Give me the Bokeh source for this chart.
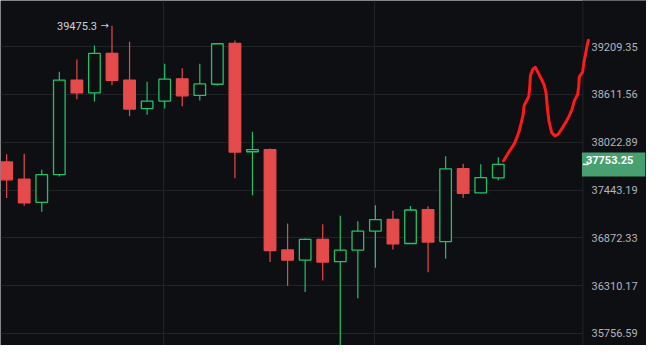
from bokeh.plotting import figure
from bokeh.models import (Range1d, FixedTicker, PrintfTickFormatter, Label, ColumnDataSource,
                          BoxAnnotation, Span)
from bokeh.core.properties import value
from bokeh.embed import file_html
from bokeh.resources import INLINE

# ---- data ----
opens = [37782.9, 37574.2, 37294.8, 37628.7, 38790.9, 38630.7, 39125.7, 38790.9, 38435.0, 38529.2,
         38806.4, 38599.8, 38738.3, 39249.4, 37907.0, 37933.6, 36729.5, 36609.2, 36853.2, 36591.3,
         36726.2, 36952.3, 37092.7, 36804.9, 37206.8, 36827.4, 37701.7, 37408.9, 37589.3]
highs = [37875.7, 37883.8, 37686.7, 38893.7, 39049.2, 39225.1, 39475.3, 39270.1, 38770.6, 38994.1,
         38937.9, 38994.1, 39247.0, 39285.8, 38152.4, 37945.2, 37043.6, 36864.5, 37032.2, 37135.9,
         37069.9, 37260.5, 37195.4, 37252.5, 37249.1, 37852.5, 37759.7, 37756.2, 37840.9]
lows = [37347.3, 37256.0, 37184.0, 37605.5, 38552.7, 38524.5, 38726.3, 38340.8, 38359.6, 38438.5,
        38465.6, 38536.2, 38722.7, 37585.8, 37381.5, 36586.8, 36305.7, 36236.0, 36369.7, 35574.6,
        36161.8, 36519.3, 36735.2, 36800.0, 36467.6, 36625.0, 37347.3, 37405.0, 37562.6]
closes = [37566.1, 37290.2, 37628.7, 38790.9, 38630.7, 39125.7, 38786.1, 38430.3, 38529.2, 38802.8,
          38595.1, 38743.0, 39245.8, 37902.3, 37933.6, 36721.7, 36609.2, 36853.2, 36586.8, 36726.2,
          36952.3, 37089.3, 36800.4, 37203.4, 36822.8, 37698.3, 37404.4, 37593.9, 37753.25]

price_ticks = [39209.35, 38611.56, 38022.89, 37443.19, 36872.33, 36310.17, 35756.59]
time_grid = [8.93, 20.93]
pane_edge = 32.82
last_price = 37753.25
peak_label = "39475.3"
peak_arrow = "\u2192"

# hand-drawn projection line
draw_x = [28.30, 28.58, 28.91, 29.06, 29.19, 29.28, 29.41, 29.47, 29.61, 29.74, 29.80, 29.83,
          29.98, 30.11, 30.30, 30.48, 30.61, 30.72, 30.80, 30.89, 31.04, 31.22, 31.41, 31.65,
          31.87, 32.06, 32.21, 32.33, 32.52, 32.58, 32.61, 32.80, 32.89, 32.98, 33.08, 33.13]
draw_y = [37798.0, 37895.4, 38003.2, 38081.8, 38159.5, 38238.4, 38356.1, 38473.8, 38532.7, 38591.6,
          38731.1, 38850.7, 38929.6, 38949.9, 38869.8, 38790.9, 38731.1, 38630.7, 38435.0, 38277.2,
          38140.6, 38100.6, 38120.6, 38199.5, 38277.2, 38356.1, 38435.0, 38532.7, 38611.6, 38710.8,
          38830.3, 38890.1, 39030.0, 39129.2, 39249.4, 39289.5]

# ---- style ----
BG = "#0e0f12"
GRID = "#222327"
UP = "#22c16a"
DOWN = "#e54b4b"
TEXT = "#b2b5be"
FONT = "Roboto"

p = figure(width=646, height=345, output_backend="svg", toolbar_location=None,
           x_range=Range1d(-0.35, 36.44), y_range=Range1d(35617.9, 39795.5),
           y_axis_type="log", y_axis_location="right", x_axis_location=None,
           min_border=0)
p.title.visible = False
p.background_fill_color = BG
p.border_fill_color = BG
p.outline_line_color = None

p.yaxis.ticker = FixedTicker(ticks=price_ticks)
p.yaxis.formatter = PrintfTickFormatter(format="%.2f")
p.yaxis.axis_line_color = None
p.yaxis.major_tick_line_color = None
p.yaxis.minor_tick_line_color = None
p.yaxis.major_tick_out = 0
p.yaxis.major_tick_in = 0
p.yaxis.major_label_standoff = -55
p.yaxis.major_label_text_color = TEXT
p.yaxis.major_label_text_font = FONT
p.yaxis.major_label_text_font_size = "11px"

p.ygrid.ticker = FixedTicker(ticks=price_ticks)
p.ygrid.grid_line_color = GRID
p.ygrid.grid_line_width = 1
p.xgrid.ticker = FixedTicker(ticks=time_grid)
p.xgrid.grid_line_color = GRID
p.xgrid.grid_line_width = 1

# price-scale strip (hides grid lines behind the labels) and its border
p.add_layout(BoxAnnotation(left=pane_edge, fill_color=BG, fill_alpha=1.0, line_color=None,
                           level="underlay"))
p.add_layout(Span(location=pane_edge, dimension="height", line_color=GRID, line_width=1,
                  level="underlay"))

idx = list(range(len(opens)))
up = [c >= o for o, c in zip(opens, closes)]
src = ColumnDataSource(dict(
    x=idx, high=highs, low=lows,
    top=[max(o, c) for o, c in zip(opens, closes)],
    bottom=[min(o, c) for o, c in zip(opens, closes)],
    color=[UP if u else DOWN for u in up],
    fill=[BG if u else DOWN for u in up],
))
p.segment(x0="x", y0="low", x1="x", y1="high", line_color="color", line_width=1.2, source=src)
p.vbar(x="x", width=0.66, top="top", bottom="bottom", fill_color="fill",
       line_color="color", line_width=1.3, source=src)

p.line(draw_x, draw_y, line_color="#ff1a1a", line_width=3, line_join="round", line_cap="round")

peak_i = max(idx, key=lambda i: highs[i])
p.text(x=[peak_i], y=[highs[peak_i]], text=[peak_label], text_align="right",
       text_baseline="middle", x_offset=-15, text_font=value(FONT), text_font_size="11px",
       text_color="#cfd1d6")
p.text(x=[peak_i], y=[highs[peak_i]], text=[peak_arrow], text_align="right",
       text_baseline="middle", x_offset=-3, text_font=value("DejaVu Sans"), text_font_size="10px",
       text_color="#cfd1d6")

tag = Label(x=pane_edge, y=last_price, x_offset=-1, text=f"{last_price:.2f}", text_align="left",
            text_baseline="middle", text_color="#ffffff", text_font=FONT, text_font_size="11px",
            text_font_style="bold", background_fill_color="#48a070", padding=(4, 12, 4, 12))
p.add_layout(tag)
p.segment(x0=[pane_edge], x1=[pane_edge + 0.32], y0=[last_price], y1=[last_price],
          line_color="#ffffff", line_width=1.5, level="overlay")

open("out.html", "w").write(file_html(p, INLINE))
